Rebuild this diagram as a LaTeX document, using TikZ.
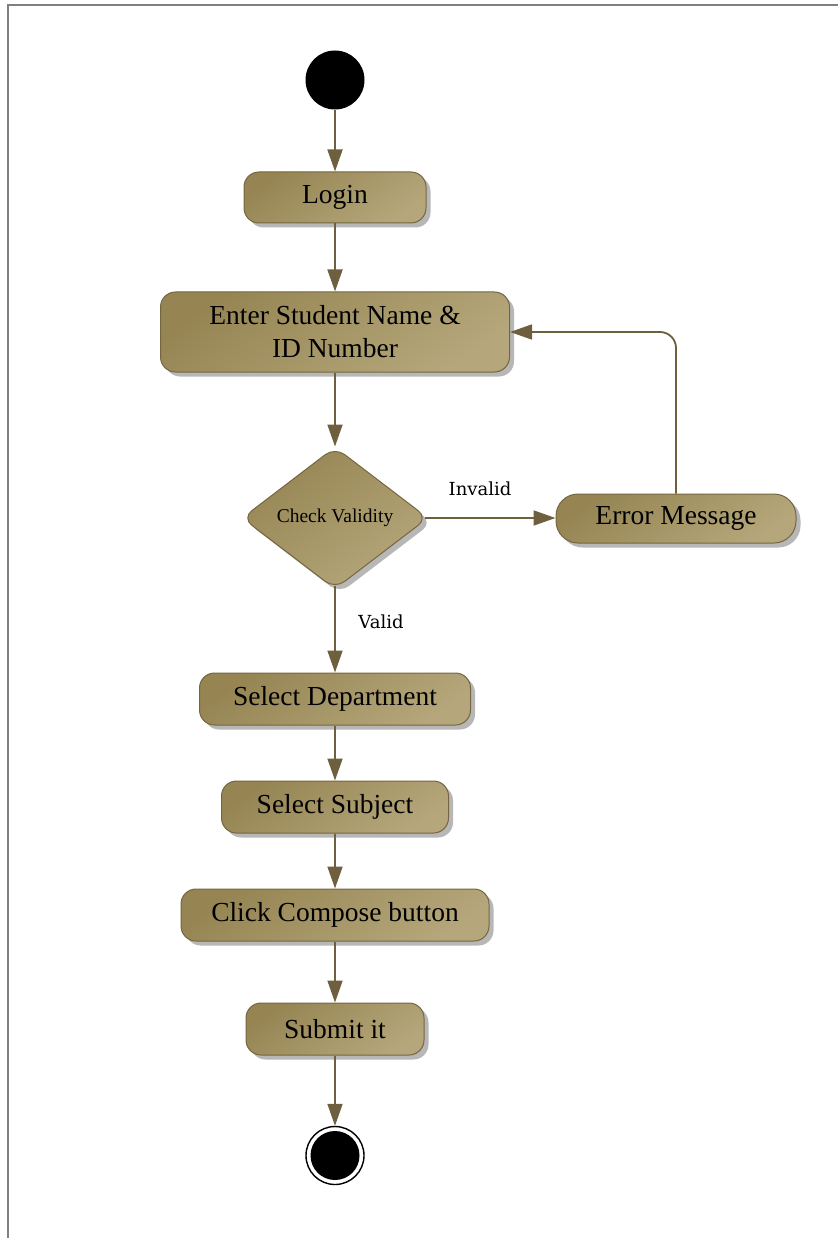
\documentclass[tikz,border=0pt]{standalone}
\usepackage{fontspec}
\setmainfont{Liberation Serif}
\newfontfamily\guardfont{DejaVu Serif}
\usetikzlibrary{arrows.meta,shapes.geometric,shadows}
\definecolor{actfillA}{HTML}{968553}
\definecolor{actfillB}{HTML}{B5A77B}
\definecolor{actdraw}{HTML}{746640}
\definecolor{flow}{HTML}{6E603E}
\definecolor{framegray}{HTML}{808080}

\begin{document}
\begin{tikzpicture}[x=1pt,y=-1pt,
  actshade/.style={draw=actdraw, line width=1pt,
    top color=actfillA, bottom color=actfillB, shading angle=35,
    drop shadow={shadow xshift=4.5pt, shadow yshift=-4.5pt, fill=black!40, opacity=0.7}},
  activity/.style={actshade, rounded corners=15pt, inner sep=0pt, align=center,
    font=\fontsize{27.5}{33}\selectfont},
  decision/.style={actshade, diamond, rounded corners=12pt, inner sep=0pt,
    minimum width=186pt, minimum height=142pt, font=\fontsize{19.5}{22}\selectfont},
  initial/.style={circle, fill=black, minimum size=59pt, inner sep=0pt},
  final/.style={circle, draw=black, line width=1.4pt, fill=white, minimum size=58pt, inner sep=0pt,
    path picture={\fill[black] (path picture bounding box.center) circle[radius=24.5pt];}},
  flowline/.style={draw=flow, line width=1.8pt},
  flowarrow/.style={flowline, -{Triangle[length=22pt,width=15pt]}},
  guard/.style={font=\guardfont\fontsize{18}{20}\selectfont, inner sep=0pt}
]
% page and frame edges
\useasboundingbox (0,0) rectangle (838,1238);
\draw[framegray, line width=2pt] (8,1238) -- (8,5) -- (838,5);

% nodes
\node[initial] (start) at (335,80) {};
\node[activity, minimum width=182pt, minimum height=51pt] (login) at (335,197.5) {Login};
\node[activity, minimum width=349pt, minimum height=80pt] (enter) at (335,332) {Enter Student Name \&\\ID Number};
\node[decision] (check) at (335,518) {Check Validity};
\node[activity, rounded corners=22pt, minimum width=240pt, minimum height=49pt] (err) at (676,518.5) {Error Message};
\node[activity, minimum width=271pt, minimum height=52pt] (dept) at (335,699) {Select Department};
\node[activity, minimum width=227pt, minimum height=52pt] (subj) at (335,807) {Select Subject};
\node[activity, minimum width=308pt, minimum height=52pt] (comp) at (335,915) {Click Compose button};
\node[activity, minimum width=178pt, minimum height=52pt] (submit) at (335,1029) {Submit it};
\node[final] (end) at (335,1155.5) {};

% guard labels
\node[guard] (invalid) at (480,489) {Invalid};
\node[guard] (valid) at (381,622) {Valid};

% the rounded diamond tips sit a little inside its anchors
\coordinate (checkout) at ([xshift=-4pt]check.east);
\coordinate (checkdown) at ([yshift=4pt]check.south);

% control flow
\draw[flowarrow] (start) -- (login);
\draw[flowarrow] (login) -- (enter);
\draw[flowarrow] (enter) -- (check);
\draw[flowarrow] (checkout) -- (checkout -| err.west);
\draw[flowarrow, rounded corners=16pt] (err.north) |- (enter.east);
\draw[flowarrow] (checkdown) -- (dept.north);
\draw[flowarrow] (dept) -- (subj);
\draw[flowarrow] (subj) -- (comp);
\draw[flowarrow] (comp) -- (submit);
\draw[flowarrow] (submit) -- (end);
\end{tikzpicture}
\end{document}
